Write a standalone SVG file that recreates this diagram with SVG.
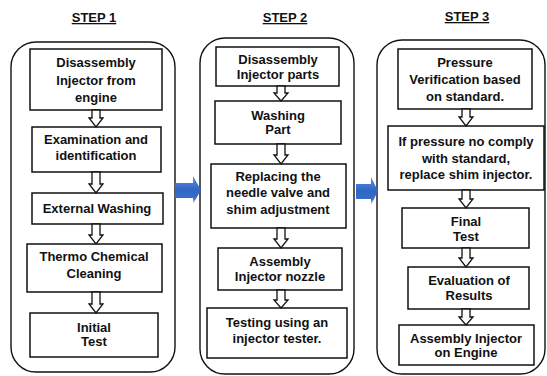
<svg xmlns="http://www.w3.org/2000/svg" width="547" height="376" viewBox="0 0 547 376">
<defs>
<linearGradient id="blue" x1="0" y1="0" x2="0" y2="1">
<stop offset="0" stop-color="#5b8fe0"/>
<stop offset="0.5" stop-color="#2f66c4"/>
<stop offset="0.8" stop-color="#3a6fc8"/>
<stop offset="1" stop-color="#dfe8f6"/>
</linearGradient>
<linearGradient id="bluehead" x1="0" y1="0" x2="1" y2="0">
<stop offset="0" stop-color="#3a6fc8"/>
<stop offset="1" stop-color="#c9d8f0"/>
</linearGradient>
</defs>
<style>
.panel{fill:#fff;stroke:#111;stroke-width:1.4}
.box{fill:#fff;stroke:#111;stroke-width:1.5}
.t{font-family:"Liberation Sans",Arial,sans-serif;font-weight:bold;font-size:13px;fill:#111;text-anchor:middle}
.h{font-family:"Liberation Sans",Arial,sans-serif;font-weight:bold;font-size:13px;fill:#111;text-anchor:middle;text-decoration:underline}
.ar{fill:#fff;stroke:#111;stroke-width:1.3;stroke-linejoin:miter}
</style>
<rect width="547" height="376" fill="#fff"/>
<text class="h" x="94" y="22">STEP 1</text>
<text class="h" x="285" y="22">STEP 2</text>
<text class="h" x="467" y="21">STEP 3</text>
<g id="panel1"><rect class="panel" x="11" y="42" width="164" height="330" rx="25"/></g>
<g id="panel2"><rect class="panel" x="200" y="38" width="154" height="336" rx="25"/></g>
<g id="panel3"><rect class="panel" x="377" y="40" width="168" height="334" rx="25"/></g>
<g id="s1n1"><rect class="box" x="30" y="49" width="132" height="61"/><text class="t"><tspan x="96" y="67">Disassembly</tspan><tspan x="96" y="85">Injector from</tspan><tspan x="96" y="102">engine</tspan></text></g>
<g id="s1n2"><rect class="box" x="32" y="127" width="129" height="45"/><text class="t"><tspan x="96" y="144">Examination and</tspan><tspan x="96" y="160">identification</tspan></text></g>
<g id="s1n3"><rect class="box" x="32" y="193" width="131" height="31"/><text class="t"><tspan x="97" y="213">External Washing</tspan></text></g>
<g id="s1n4"><rect class="box" x="27" y="244" width="135" height="48"/><text class="t"><tspan x="94" y="261">Thermo Chemical</tspan><tspan x="94" y="278">Cleaning</tspan></text></g>
<g id="s1n5"><rect class="box" x="30" y="313" width="128" height="44"/><text class="t"><tspan x="94" y="332">Initial</tspan><tspan x="94" y="346">Test</tspan></text></g>
<g id="s2n1"><rect class="box" x="216" y="47" width="123" height="39"/><text class="t"><tspan x="278" y="64">Disassembly</tspan><tspan x="278" y="79">Injector parts</tspan></text></g>
<g id="s2n2"><rect class="box" x="215" y="101" width="126" height="43"/><text class="t"><tspan x="278" y="120">Washing</tspan><tspan x="278" y="134">Part</tspan></text></g>
<g id="s2n3"><rect class="box" x="211" y="164" width="135" height="64"/><text class="t"><tspan x="278" y="181">Replacing the</tspan><tspan x="278" y="197">needle valve and</tspan><tspan x="278" y="214">shim adjustment</tspan></text></g>
<g id="s2n4"><rect class="box" x="218" y="248" width="124" height="42"/><text class="t"><tspan x="280" y="266">Assembly</tspan><tspan x="280" y="281">Injector nozzle</tspan></text></g>
<g id="s2n5"><rect class="box" x="207" y="308" width="140" height="50"/><text class="t"><tspan x="277" y="327">Testing using an</tspan><tspan x="277" y="343">injector tester.</tspan></text></g>
<g id="s3n1"><rect class="box" x="398" y="49" width="134" height="60"/><text class="t"><tspan x="465" y="67">Pressure</tspan><tspan x="465" y="84">Verification based</tspan><tspan x="465" y="101">on standard.</tspan></text></g>
<g id="s3n2"><rect class="box" x="388" y="126" width="156" height="64"/><text class="t"><tspan x="466" y="146">If pressure no comply</tspan><tspan x="466" y="163">with standard,</tspan><tspan x="466" y="179">replace shim injector.</tspan></text></g>
<g id="s3n3"><rect class="box" x="402" y="208" width="127" height="40"/><text class="t"><tspan x="466" y="226">Final</tspan><tspan x="466" y="241">Test</tspan></text></g>
<g id="s3n4"><rect class="box" x="408" y="267" width="121" height="42"/><text class="t"><tspan x="469" y="285">Evaluation of</tspan><tspan x="469" y="300">Results</tspan></text></g>
<g id="s3n5"><rect class="box" x="399" y="325" width="135" height="40"/><text class="t"><tspan x="466" y="343">Assembly Injector</tspan><tspan x="466" y="357">on Engine</tspan></text></g>
<g id="connectors">
<polygon class="ar" points="92,110 100,110 100,118 103,118 96,127 89,118 92,118"/>
<polygon class="ar" points="92,172 100,172 100,184 103,184 96,193 89,184 92,184"/>
<polygon class="ar" points="92,224 100,224 100,235 103,235 96,244 89,235 92,235"/>
<polygon class="ar" points="92,292 100,292 100,304 103,304 96,313 89,304 92,304"/>
<polygon class="ar" points="277,86 285,86 285,93 288,93 281,101 274,93 277,93"/>
<polygon class="ar" points="277,144 285,144 285,155 288,155 281,164 274,155 277,155"/>
<polygon class="ar" points="277,228 285,228 285,239 288,239 281,248 274,239 277,239"/>
<polygon class="ar" points="277,290 285,290 285,300 288,300 281,308 274,300 277,300"/>
<polygon class="ar" points="462,109 470,109 470,117 473,117 466,126 459,117 462,117"/>
<polygon class="ar" points="462,190 470,190 470,199 473,199 466,208 459,199 462,199"/>
<polygon class="ar" points="462,248 470,248 470,258 473,258 466,267 459,258 462,258"/>
<polygon class="ar" points="462,309 470,309 470,317 473,317 466,325 459,317 462,317"/>
<polygon points="175,183 193,183 193,176 201,190 193,204 193,198 175,198" fill="url(#blue)"/>
<polygon points="356,184 371,184 371,177 378,191 371,205 371,199 356,199" fill="url(#blue)"/>
</g>
</svg>
